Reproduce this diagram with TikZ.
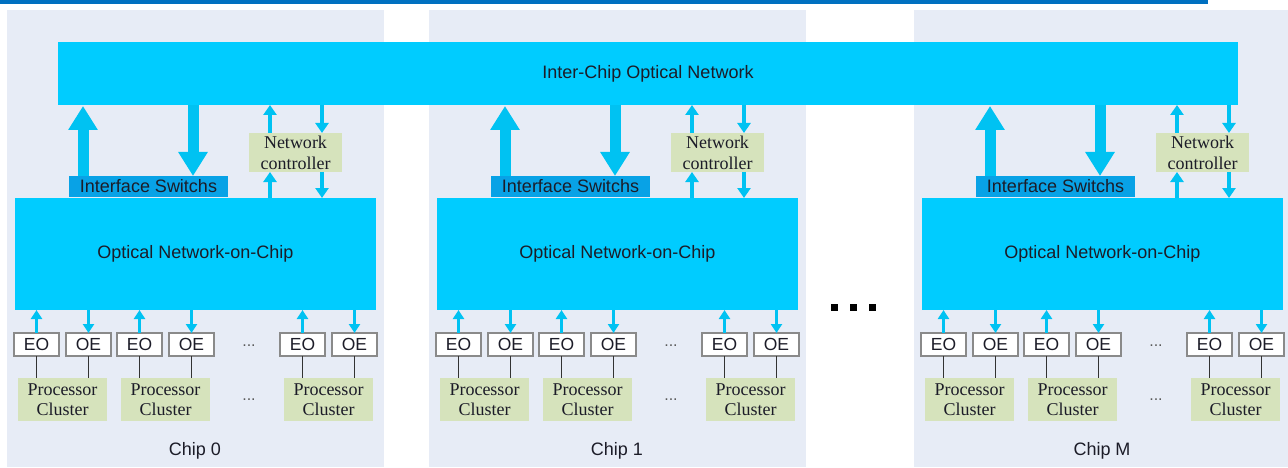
\documentclass[tikz,border=0pt]{standalone}
\usepackage{fontspec}
\setmainfont{Liberation Serif}
\newfontfamily\sansf{Liberation Sans}
\usetikzlibrary{arrows.meta,calc}
\definecolor{topbar}{HTML}{0070C0}
\definecolor{cyanbar}{HTML}{00CCFF}
\definecolor{ifsblue}{HTML}{08A2E6}
\definecolor{chipbg}{HTML}{E7ECF6}
\definecolor{olive}{HTML}{D6E3BC}
\definecolor{arrowc}{HTML}{00C2F2}
\definecolor{txt}{HTML}{1C1C28}
\definecolor{eoline}{HTML}{8A8A8A}
\tikzset{
  rbox/.style={inner sep=0pt, outer sep=0pt, anchor=north west, text=txt},
  cyanbox/.style={rbox, fill=cyanbar, font=\sansf\fontsize{18}{21}\selectfont},
  ifsbox/.style={rbox, fill=ifsblue, minimum width=159pt, minimum height=21pt, font=\sansf\fontsize{18}{21}\selectfont},
  ncbox/.style={rbox, fill=olive, minimum width=93pt, minimum height=39pt, align=center, font=\fontsize{18}{21}\selectfont},
  pcbox/.style={rbox, fill=olive, minimum width=89pt, minimum height=43pt, align=center, font=\fontsize{18}{20}\selectfont},
  eobox/.style={rbox, fill=white, draw=eoline, line width=1.2pt, minimum width=45pt, minimum height=23pt, font=\sansf\fontsize{17.5}{20}\selectfont},
  bigarrow/.style={draw=arrowc, line width=11pt, -{Triangle[width=28pt,length=24pt]}},
  smallarrow/.style={draw=arrowc, line width=3.5pt, -{Triangle[width=13pt,length=10pt]}},
  eoarrow/.style={draw=arrowc, line width=3pt, -{Triangle[width=11pt,length=9pt]}},
  link/.style={draw=black!80, line width=1.5pt},
  smalldots/.style={inner sep=0pt, anchor=base, text=black!65, font=\sansf\fontsize{16}{16}\selectfont},
  bigdot/.style={fill=black, inner sep=0pt, minimum size=7pt},
  chiplabel/.style={inner sep=0pt, text=txt, font=\sansf\fontsize{18}{20}\selectfont}
}
\begin{document}
\begin{tikzpicture}[x=1pt,y=-1pt]
\useasboundingbox (0,0) rectangle (1288,468);
\fill[white] (0,0) rectangle (1288,468);
\fill[topbar] (0,0) rectangle (1208,4);
% chip backgrounds
\foreach \ox in {0,422,907}{
  \fill[chipbg] (7+\ox,10) rectangle (384+\ox,467);
}
% inter-chip network
\node[cyanbox, minimum width=1180pt, minimum height=63pt] (icon) at (58,42) {Inter-Chip Optical Network};
% big dots
\node[bigdot] (bd1) at (834,307) {};
\node[bigdot] (bd2) at (853,307) {};
\node[bigdot] (bd3) at (872,307) {};
\foreach \ox/\c/\lab in {0/a/Chip 0, 422/b/Chip 1, 907/c/Chip M}{
\begin{scope}[shift={(\ox,0)}]
  \node[cyanbox, minimum width=361pt, minimum height=112pt] (onoc\c) at (15,198) {Optical Network-on-Chip};
  \node[ifsbox] (ifs\c) at (69,176) {Interface Switchs};
  \node[ncbox] (nc\c) at (249,133) {Network\\controller};
  % thick arrows
  \coordinate (up\c) at ($(ifs\c.north west)+(14,0)$);
  \coordinate (dn\c) at ($(ifs\c.north west)+(124,0)$);
  \draw[bigarrow, shorten >=1pt] (up\c) -- (up\c |- icon.south);
  \draw[bigarrow] (dn\c |- icon.south) -- (dn\c);
  % controller arrows
  \coordinate (ncu\c) at ($(nc\c.north west)+(21,0)$);
  \coordinate (ncd\c) at ($(nc\c.north east)+(-20,0)$);
  \draw[smallarrow] (ncu\c) -- (ncu\c |- icon.south);
  \draw[smallarrow] (ncd\c |- icon.south) -- (ncd\c);
  \draw[smallarrow] (ncu\c |- onoc\c.north) -- (ncu\c |- nc\c.south);
  \draw[smallarrow] (ncd\c |- nc\c.south) -- (ncd\c |- onoc\c.north);
  % EO / OE / processor clusters
  \foreach \ex/\k in {14/1,117/2,280/3}{
    \node[eobox] (eo\c\k) at (\ex,333) {EO};
    \node[eobox] (oe\c\k) at (\ex+52,333) {OE};
    \node[pcbox] (pc\c\k) at (\ex+4,378) {Processor\\Cluster};
    \draw[eoarrow] (eo\c\k.north) -- (eo\c\k.north |- onoc\c.south);
    \draw[eoarrow] (oe\c\k.north |- onoc\c.south) -- (oe\c\k.north);
    \draw[link] (eo\c\k.south) -- (eo\c\k.south |- pc\c\k.north);
    \draw[link] (oe\c\k.south) -- (oe\c\k.south |- pc\c\k.north);
  }
  \node[smalldots] (sd1\c) at (249,346) {...};
  \node[smalldots] (sd2\c) at (249,400) {...};
  \node[chiplabel] (lab\c) at (195,451) {\lab};
\end{scope}
}
\end{tikzpicture}
\end{document}
